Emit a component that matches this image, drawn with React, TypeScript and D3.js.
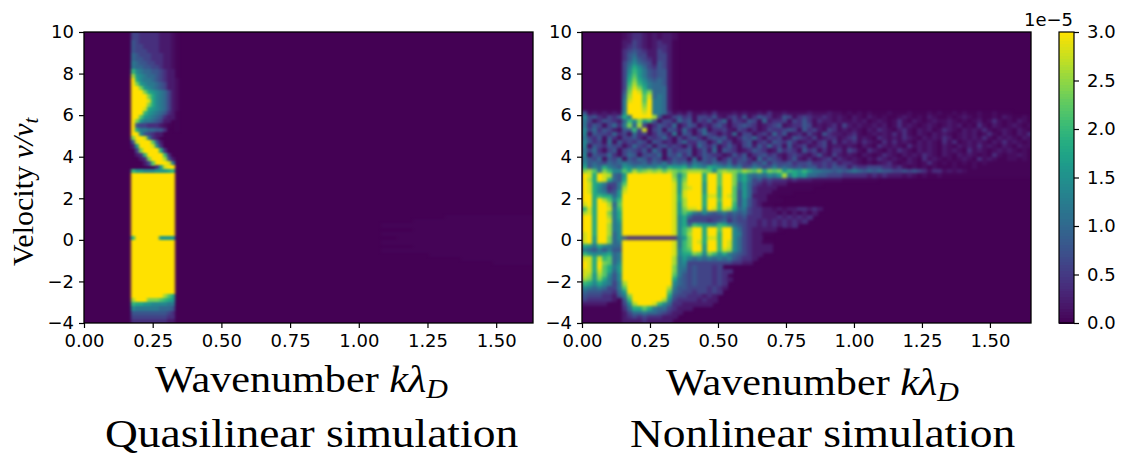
import * as d3 from "d3";
import { useEffect, useRef } from "react";

// spectra, hex digit = 0.2e-5 per step,
// "," = 0.1e-5 and "." = barely above zero
// rows go from v=10 down to v=-4 in steps of 0.2
const quasilinearBand = [
  "3322222111,.","3322222111,.","4322222111,.","4332222111,.","4333222111,.",
  "5433322211,.","5443322211,.","6544332211,.","6554433211,.",
  "a7655443211.","d8765543211.","f9766543211,","fc876654311,","ffc87654311,",
  "fffc9876531,","ffffc976531,","ffffe976531,","ffffc976531,","fffe9876531,",
  "fffa8765421.","ffb87654211.","fc866543110.","f4332221,.0.","f9665544200.",
  "ff7432110000","cffe62100000","4efffb410000","18fffe720000","03cffff92000",
  "012affffa200","0012cfffd410","00013bfffe60","00000028eff0","a887778889a0",
  "fffffffffff0","fffffffffff0","fffffffffff0","fffffffffff0","fffffffffff0",
  "fffffffffff0","fffffffffff0","fffffffffff0","fffffffffff0","fffffffffff0",
  "fffffffffff0","fffffffffff0","fffffffffff0","fffffffffff0","fffffffffff0","affffff88880",
  "fffffffffff0","fffffffffff0","fffffffffff0","fffffffffff0","fffffffffff0",
  "fffffffffff0","fffffffffff0","fffffffffff0","fffffffffff0","fffffffffff0",
  "fffffffffff0","fffffffffff0","fffffffffff0","ffffffffdb90","dfffcccba980",
  "a99887777660","766666655540","444444444320","333333333220","222222222110",
];

const quasilinearFaint = [
  "0000......","00........","..........","00........","..........","0.........",
  "..........","00........","..........","000.......","00000.....","0000000...",
];

const nonlinearRows = [
  "........,1221,1,11,","........,1221,1,11,","........11321,1211.","........12321,1221.",
  "........2343211321.","........2453311331.","........2464321331.","........3575431431.",
  "........3697532431.","........37a8643441.","........38b8643441.","........39c9754541.",
  "........3ada865541.","........3bec965551.","........4cfeac5551.","........5dffbe5651.",
  "........6effbf6651.","........6fffcf6651.","........6fffdf6651.",
  "4,1,1,1,7fffef6652,1,2,,1,2,,,1,1,,1,2,,1,,,,1,,,1,,.,.,.,...,...,...,.,..,.,..,..,...",
  "7342132496ffffd4,13423,33241,2314,2432,143,2321121,1,.1,.1,.,..,1,.,.1,..,.,1,.,..,.1,..,.",
  "63,243215a7c8a4,331534,324135,32143,51223,3242,211,1,,1,1.,1,.,2,.1,.,1,,1,.,.,1.,2,.,.1,.",
  "6243,3526c5d3,24325,243,21342,23432,1234,12243,1,12,31,1,,1,1.,2,1,.,1,.,1,1.,.2,.1,.,1,.,1",
  "7352431,44a3e,34,43152,35,2231,32,2,1322343,4231,32,1,1,.1,21,.12,.1,1.,21,.1,1,2,.,1,.1,.1",
  "7,4332523,523,24316,43,2532,215,33,231524,12,31,4211,12,.,1,1,2,2,.1,.1,1,.,1,1.,2,.1,.1,2,",
  "6324,42,3342,32352,31342,34341,24352,323,143213,122,123,1,.21,1,21,.1,1,21.,1,1,2,.1,1,.1,,",
  "7423,5,423243,4312,352243,2523,134,23143242,12,23,3,212,21,.2,2,1,.1,1,.2,2.,1,1,.1,2,1,.,,",
  "7,432433,25324,34232,315324,242,34142523,4123,123,11,1,.1,.21,1,.2,1,1,.1,.1,1,2,1,.1,.1,,.",
  "6352,34,34324153,42334,2415,432,12432,14232,423,2,22,32,.21,.1,21,.1,1,.1,1,.2,1,.,1,1,.,.,",
  "7,43352,354,3435,43524,24322,1424,234231,2321,241,31,1,.1,.,21,.1,1,21,.1,.1,1,.,.2,.,,1,.,",
  "6435,435,4354243,2433,5,434,242342,52432,241,2,123,21,1,.1,21,1,.1,.2,1,.,.,1,.2,1,..,,.,..",
  "7454354565445354635453654354352432435243342334223231221,.,.,12,.,1,.,2,.,.,.,.,.,.........",
  "9465965487676768698896876987675634653464543434423243313223332212,.,.,.,...,...,...........",
  "cdb6ca77b9dbcdcdbdcbcdddcb7cdccbdcbd9cbc8a98a866554545654545443343432,22,1,1,.............",
  "fe9fed548fffffffffc7bfff9ffbffc796565768d69785544333222221212111,1,.,..,...................",
  "fd9fe9549fffffffffd8cfff9ffbffc796342322212111,,,,,,.......",
  "fe986336bfffffffffe8dfff8ffbffc5853212111.......",
  "fe975236dfffffffffe8deff8ffaffb58521111.......",
  "fe976348efffffffffe8efff8ffaffb4852111....",
  "ff9a9958ffffffffffe9efff9eeafeb485111..",
  "ff9fdb7affffffffffe9dfff9ffbffb474211...",
  "ef9ffd5bffffffffffe8dfff9ffaffa47421..",
  "ae9ffe6affffffffffe8ceef8feaed95632211,1,1122121",
  "de9ffc69ffffffffffe8b965754564545322111.1.1.1.1",
  "ff9ffd69ffffffffffe795333333434342221112121212",
  "ff9ffe68ffffffffffe79333323452433221212121212",
  "ff9ffd67ffffffffffe795a9887a975432212121212",
  "ff9ffd67ffffffffffe7acff9ffbff753211111.",
  "ef9ffd57ffffffffffe7adff9ffaff763211..",
  "ef8ffc574222222222268cff9eeaff753211",
  "ef8ffc56ffffffffffe6acfe9ffafe753211..",
  "98697655ffffffffffe6acff8ffafe75321111",
  "65464644ffffffffffe7abff8ffaed75321111",
  "a8778956ffffffffffe799cb7ca796543211",
  "ee9eab56ffffffffffd6865656565643221",
  "fe9fcb57ffffffffffd673333333332211",
  "fe9fb968ffffffffffc663433323",
  "ee9eb958ffffffffffc65343332322",
  "ed8db747ffffffffffb6434333232",
  "dc8c9647ffffffffff954343332321",
  "a9797636dfffffffff75434333232",
  "76565336bffffffffd64433332321",
  "544433258ffffffffb5433233232",
  "433322146cfffffff9433222121",
  "3222221.4affffffd7322221211",
  "11111...37dfffea7522111111",
  "........2599b965532111",
  "........135565543211",
  "........12323222111",
  "........1111211111",
];

const kTicks = [0, 0.25, 0.5, 0.75, 1, 1.25, 1.5];
const vTicks = [-4, -2, 0, 2, 4, 6, 8, 10];
const cbarTicks = [0, 0.5, 1, 1.5, 2, 2.5, 3];

const cellLevel = (ch: string) =>
  ch === "." ? 0.035 : ch === "," ? 0.1 : parseInt(ch, 16) * 0.2;
const viridis = d3.scaleSequential(d3.interpolateViridis).domain([0, 3]);
// top of the map prints a bit more golden in the reference
const color = (c: number) =>
  c >= 2.7 ? d3.interpolateRgb(viridis(2.7), "#ffe100")((c - 2.7) / 0.3) : viridis(c);

const vMin = -4;
const vMax = 10;
const dv = 0.2;
const top = 32;
const bottom = 323;
const sans = "'DejaVu Sans', sans-serif";
const serif = "'Liberation Serif', serif";

const yScale = d3.scaleLinear().domain([vMin, vMax]).range([bottom, top]);
const xLeft = d3.scaleLinear().domain([0, 1.634]).range([84, 533]);
const xRight = d3.scaleLinear().domain([0, 1.651]).range([582, 1031]);
const yCbar = d3.scaleLinear().domain([0, 3]).range([bottom, top]);
const cbarSteps = d3.range(0, 3, 0.03);

function Cells({ rows, k0, dk, v0, x, width }: any) {
  return rows.flatMap((row: string, i: number) =>
    Array.from(row).map((ch, j) => {
      const level = cellLevel(ch);
      if (level === 0 || k0 + j * dk >= x.domain()[1]) return null;
      const yTop = yScale(v0 - i * dv);
      return (
        <rect
          key={i + "-" + j}
          x={x(k0 + j * dk)}
          y={yTop}
          width={width + 0.6}
          height={yScale(v0 - (i + 1) * dv) - yTop + 0.6}
          fill={color(level)}
          shapeRendering="crispEdges"
        />
      );
    })
  );
}

export default function App() {
  const svgRef = useRef<SVGSVGElement>(null);

  // axes
  useEffect(() => {
    const svg = d3.select(svgRef.current);
    const style = (g: any) => {
      g.selectAll("text").attr("font-family", sans).attr("font-size", 18).attr("fill", "#000");
      g.selectAll("line").attr("stroke", "#000").attr("stroke-width", 1.2);
      g.select(".domain").remove();
    };
    const xAxis = (x: any) =>
      d3.axisBottom(x).tickValues(kTicks).tickFormat(d3.format(".2f") as any).tickSize(5).tickPadding(6);
    const yAxis = d3.axisLeft(yScale).tickValues(vTicks).tickSize(5).tickPadding(5);

    svg.select(".x-left").attr("transform", `translate(0,${bottom})`).call(xAxis(xLeft) as any).call(style);
    svg.select(".x-right").attr("transform", `translate(0,${bottom})`).call(xAxis(xRight) as any).call(style);
    svg.select(".y-left").attr("transform", "translate(84,0)").call(yAxis as any).call(style);
    svg.select(".y-right").attr("transform", "translate(582,0)").call(yAxis as any).call(style);
    svg
      .select(".y-cbar")
      .attr("transform", "translate(1074,0)")
      .call(d3.axisRight(yCbar).tickValues(cbarTicks).tickFormat(d3.format(".1f") as any).tickSize(5).tickPadding(8) as any)
      .call(style);
  }, []);

  const leftCellW = xLeft(0.01456) - xLeft(0);
  const rightCellW = xRight(0.01838) - xRight(0);

  return (
    <svg
      ref={svgRef}
      width={1124}
      height={456}
      style={{ position: "absolute", left: 0, top: 0, background: "#fff" }}
    >
      <defs>
        <filter id="soft-l" filterUnits="userSpaceOnUse" x={60} y={10} width={500} height={340} colorInterpolationFilters="sRGB">
          <feGaussianBlur stdDeviation="1.5 1.1" />
        </filter>
        <filter id="soft-r" filterUnits="userSpaceOnUse" x={560} y={10} width={500} height={340} colorInterpolationFilters="sRGB">
          <feGaussianBlur stdDeviation="1.8 1.5" />
        </filter>
        <clipPath id="clip-l">
          <rect x={84} y={top} width={449} height={bottom - top} />
        </clipPath>
        <clipPath id="clip-r">
          <rect x={582} y={top} width={449} height={bottom - top} />
        </clipPath>
      </defs>

      {/* Left panel */}
      <rect x={84} y={top} width={449} height={bottom - top} fill={color(0)} />
      <g clipPath="url(#clip-l)">
        <g filter="url(#soft-l)">
          <Cells rows={quasilinearFaint} k0={1.08} dk={0.0582} v0={1.2} x={xLeft} width={xLeft(0.0582) - xLeft(0)} />
          <Cells rows={quasilinearBand} k0={0.1703} dk={0.01456} v0={vMax} x={xLeft} width={leftCellW} />
        </g>
      </g>
      <rect x={84} y={top} width={449} height={bottom - top} fill="none" stroke="#000" strokeWidth={1.3} />

      {/* Right panel */}
      <rect x={582} y={top} width={449} height={bottom - top} fill={color(0)} />
      <g clipPath="url(#clip-r)">
        <g filter="url(#soft-r)">
          <Cells rows={nonlinearRows} k0={0} dk={0.01838} v0={vMax} x={xRight} width={rightCellW} />
        </g>
      </g>
      <rect x={582} y={top} width={449} height={bottom - top} fill="none" stroke="#000" strokeWidth={1.3} />

      {/* Colorbar */}
      {cbarSteps.map((c) => (
        <rect
          key={c}
          x={1059}
          y={yCbar(c + 0.03)}
          width={15}
          height={yCbar(c) - yCbar(c + 0.03) + 0.5}
          fill={color(c + 0.015)}
          shapeRendering="crispEdges"
        />
      ))}
      <rect x={1059} y={top} width={15} height={bottom - top} fill="none" stroke="#000" strokeWidth={1.2} />
      <text x={1073} y={26} textAnchor="end" fontFamily={sans} fontSize={18}>1e−5</text>

      <g className="x-left" />
      <g className="y-left" />
      <g className="x-right" />
      <g className="y-right" />
      <g className="y-cbar" />

      {/* Labels */}
      <text transform="translate(155,392) scale(1.11,1)" fontFamily={serif} fontSize={38}>
        Wavenumber <tspan fontStyle="italic">kλ</tspan>
        <tspan fontStyle="italic" fontSize={27} dy={6}>D</tspan>
      </text>
      <text transform="translate(666,395) scale(1.11,1)" fontFamily={serif} fontSize={38}>
        Wavenumber <tspan fontStyle="italic">kλ</tspan>
        <tspan fontStyle="italic" fontSize={27} dy={6}>D</tspan>
      </text>
      <text transform="translate(105,447) scale(1.11,1)" fontFamily={serif} fontSize={41}>Quasilinear simulation</text>
      <text transform="translate(630,447) scale(1.11,1)" fontFamily={serif} fontSize={41}>Nonlinear simulation</text>
      <text transform="translate(33,266) rotate(-90)" fontFamily={serif} fontSize={30}>
        Velocity <tspan fontStyle="italic">v/v</tspan>
        <tspan fontStyle="italic" fontSize={21} dy={5}>t</tspan>
      </text>
    </svg>
  );
}
